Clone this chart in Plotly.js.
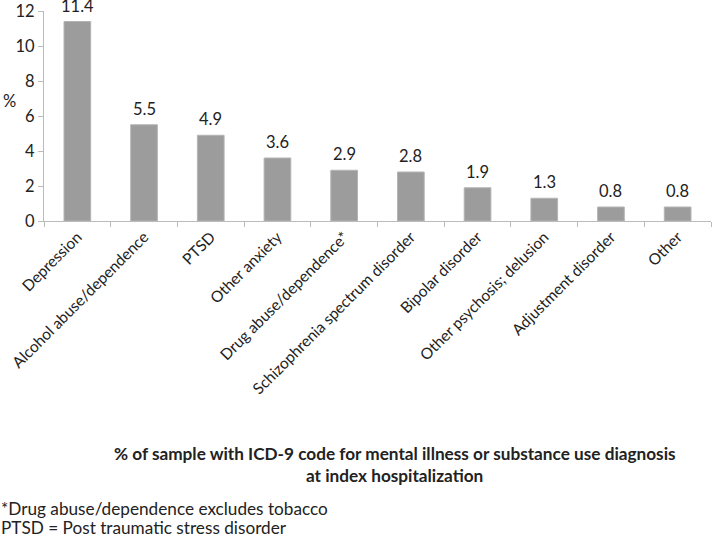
<!DOCTYPE html>
<html>
<head>
<meta charset="utf-8">
<script src="https://cdn.plot.ly/plotly-3.0.1.min.js"></script>
<style>
  html, body { margin: 0; padding: 0; background: #fff; }
  #chart { width: 714px; height: 537px; }
</style>
</head>
<body>
<div id="chart"></div>
<script>
const diagnoses = ['Depression', 'Alcohol abuse/dependence', 'PTSD', 'Other anxiety',
  'Drug abuse/dependence*', 'Schizophrenia spectrum disorder', 'Bipolar disorder',
  'Other psychosis; delusion', 'Adjustment disorder', 'Other'];
const percents = [11.4, 5.5, 4.9, 3.6, 2.9, 2.8, 1.9, 1.3, 0.8, 0.8];
const yTicks = [0, 2, 4, 6, 8, 10, 12];
const titleLines = ['% of sample with ICD-9 code for mental illness or substance use diagnosis',
  'at index hospitalization'];
const notes = ['*Drug abuse/dependence excludes tobacco', 'PTSD = Post traumatic stress disorder'];

const font = 'Lato, "Open Sans", sans-serif';

// pick a font size so a line comes out about as wide as in the original
const ctx = document.createElement('canvas').getContext('2d');
function fitSize(text, weight, width) {
  ctx.font = weight + ' 100px Lato';
  return Math.round(1000 * width / ctx.measureText(text).width) / 10;
}
const titleSize = fitSize(titleLines[0], 'bold', 562);
const noteSize = fitSize(notes[0], 'normal', 328);

const trace = {
  x: diagnoses,
  y: percents,
  type: 'bar',
  cliponaxis: false,
  marker: { color: '#9c9c9c', line: { color: '#b4b4b4', width: 1 } },
  hoverinfo: 'x+y'
};

// value labels above the bars
const valueLabels = diagnoses.map((d, i) => ({
  x: d, y: percents[i], xref: 'x', yref: 'y',
  text: percents[i].toFixed(1),
  xanchor: 'center', yanchor: 'middle', yshift: 16,
  showarrow: false,
  font: { family: font, size: 16.5, color: '#222' }
}));

// text below the plot, one annotation per line
const belowText = [];
titleLines.forEach((t, i) => {
  belowText.push({
    text: '<b>' + t + '</b>', xref: 'paper', yref: 'paper',
    x: 0.526, y: -1.105 - i * 0.105,
    xanchor: 'center', yanchor: 'middle', showarrow: false,
    font: { family: font, size: titleSize, color: '#222' }
  });
});
notes.forEach((t, i) => {
  belowText.push({
    text: t, xref: 'paper', yref: 'paper',
    x: -0.068, y: -1.371 - i * 0.088,
    xanchor: 'left', yanchor: 'middle', showarrow: false,
    font: { family: font, size: noteSize, color: '#222' }
  });
});

const layout = {
  width: 714,
  height: 537,
  margin: { l: 44, r: 3, t: 11, b: 316 },
  paper_bgcolor: '#fff',
  plot_bgcolor: '#fff',
  bargap: 0.6,
  showlegend: false,
  font: { family: font, size: 15, color: '#222' },
  xaxis: {
    tickangle: -45,
    ticks: 'outside',
    tickson: 'boundaries',
    ticklen: 5,
    tickcolor: '#bbb',
    showline: true,
    linecolor: '#bbb',
    showgrid: false,
    tickfont: { family: font, size: 15.5, color: '#222' }
  },
  yaxis: {
    range: [0, 12],
    tickvals: yTicks,
    ticks: 'outside',
    ticklen: 5,
    tickcolor: '#bbb',
    showline: true,
    linecolor: '#bbb',
    showgrid: false,
    zeroline: false,
    tickfont: { family: font, size: 16.5, color: '#222' }
  },
  annotations: [
    {
      text: '%', xref: 'paper', yref: 'paper', x: -0.052, y: 0.57,
      xanchor: 'center', yanchor: 'middle', showarrow: false,
      font: { family: font, size: 16.5, color: '#222' }
    }
  ].concat(valueLabels, belowText)
};

Plotly.newPlot('chart', [trace], layout, { displayModeBar: false, staticPlot: true });
</script>
</body>
</html>
